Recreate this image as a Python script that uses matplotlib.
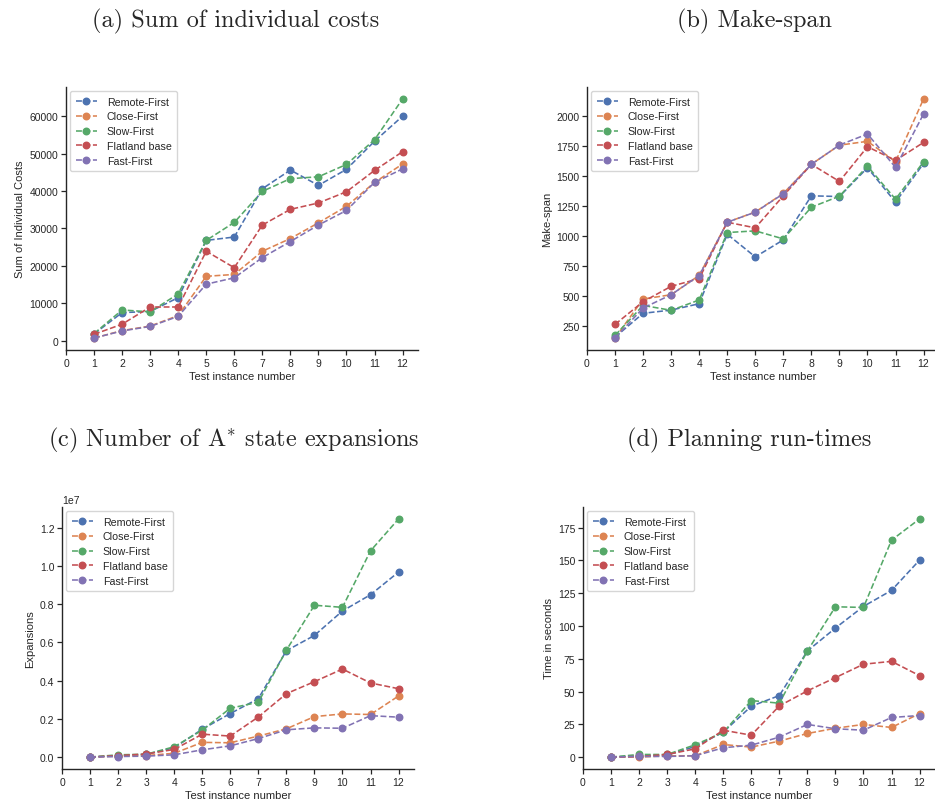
import matplotlib

matplotlib.use("Agg")

import matplotlib.pyplot as plt
import seaborn as sns

instances = list(range(1, 13))
methods = ["Remote-First", "Close-First", "Slow-First", "Flatland base", "Fast-First"]

# sum of individual costs
soc_remote = [1800, 7500, 7800, 11500, 26800, 27700, 40600, 45600, 41500, 45800, 53300, 60000]
soc_close = [700, 2700, 3900, 6700, 17200, 17700, 23900, 27300, 31500, 35900, 42300, 47200]
soc_slow = [1900, 8200, 7700, 12500, 26800, 31600, 39900, 43300, 43800, 47100, 53700, 64600]
soc_flat = [1700, 4400, 9000, 9000, 23900, 19500, 30900, 35100, 36800, 39800, 45500, 50500]
soc_fast = [700, 2600, 3800, 6500, 15100, 16800, 22200, 26500, 30900, 34800, 42300, 45900]

# make-span
ms_remote = [158, 356, 383, 436, 1015, 826, 968, 1335, 1329, 1569, 1282, 1605]
ms_close = [150, 475, 511, 672, 1115, 1200, 1355, 1598, 1757, 1789, 1620, 2142]
ms_slow = [172, 422, 381, 467, 1029, 1043, 976, 1240, 1332, 1582, 1307, 1619]
ms_flat = [264, 453, 581, 645, 1115, 1068, 1335, 1597, 1455, 1744, 1630, 1780]
ms_fast = [150, 400, 511, 670, 1115, 1199, 1352, 1597, 1758, 1850, 1572, 2017]

# A* state expansions
exp_remote = [0.0, 8.0e4, 1.4e5, 4.9e5, 1.46e6, 2.28e6, 3.06e6, 5.57e6, 6.37e6, 7.65e6, 8.50e6, 9.69e6]
exp_close = [0.0, 5.0e4, 8.0e4, 2.0e5, 7.7e5, 7.5e5, 1.10e6, 1.48e6, 2.12e6, 2.26e6, 2.23e6, 3.20e6]
exp_slow = [0.0, 1.2e5, 1.5e5, 5.4e5, 1.41e6, 2.56e6, 2.87e6, 5.60e6, 7.95e6, 7.84e6, 1.080e7, 1.247e7]
exp_flat = [0.0, 8.0e4, 1.6e5, 4.0e5, 1.20e6, 1.10e6, 2.10e6, 3.32e6, 3.95e6, 4.61e6, 3.88e6, 3.58e6]
exp_fast = [0.0, 3.0e4, 5.0e4, 1.2e5, 3.8e5, 5.9e5, 9.7e5, 1.43e6, 1.53e6, 1.51e6, 2.17e6, 2.09e6]

# planning run-times (s)
rt_remote = [0.0, 1.0, 1.5, 8.1, 19.0, 38.8, 46.9, 80.9, 98.4, 114.9, 127.1, 150.2]
rt_close = [0.0, 0.0, 1.0, 1.0, 9.6, 7.6, 12.2, 18.0, 22.0, 24.9, 22.6, 33.2]
rt_slow = [0.0, 2.0, 2.0, 9.4, 18.8, 43.1, 41.1, 80.9, 114.6, 114.1, 165.4, 181.6]
rt_flat = [0.0, 0.5, 2.0, 6.3, 20.5, 16.7, 39.0, 50.5, 60.6, 70.8, 73.0, 62.1]
rt_fast = [0.0, 0.5, 0.5, 1.0, 7.1, 9.1, 15.2, 24.9, 21.6, 20.5, 30.2, 31.7]

panels = [
    ("(a) Sum of individual costs", "Sum of Individual Costs",
     [soc_remote, soc_close, soc_slow, soc_flat, soc_fast]),
    ("(b) Make-span", "Make-span", [ms_remote, ms_close, ms_slow, ms_flat, ms_fast]),
    ("(c) Number of A$^{*}$ state expansions", "Expansions",
     [exp_remote, exp_close, exp_slow, exp_flat, exp_fast]),
    ("(d) Planning run-times", "Time in seconds", [rt_remote, rt_close, rt_slow, rt_flat, rt_fast]),
]

sns.set_style("ticks")
plt.rcParams["font.family"] = ["Liberation Sans", "DejaVu Sans"]
plt.rcParams["mathtext.fontset"] = "cm"
colors = sns.color_palette("deep")

W, H = 935, 803
fig = plt.figure(figsize=(W / 100, H / 100), dpi=100)

# axes boxes in pixels: left, bottom-from-top, width, height
boxes = [(66, 351, 352, 263), (587, 351, 352, 263), (62, 770, 352, 262), (583, 770, 352, 262)]
title_pos = [(92, 21), (677, 21), (48, 440), (627, 440)]

for (title, ylabel, series), (x0, yb, w, h), (tx, ty) in zip(panels, boxes, title_pos):
    ax = fig.add_axes([x0 / W, (H - yb) / H, w / W, h / H])
    for name, vals, c in zip(methods, series, colors):
        ax.plot(instances, vals, "o--", color=c, lw=1.15, ms=4.7, label=name)
    ax.set_xlim(left=0)
    ax.set_xticks(range(0, 13))
    ax.set_xlabel("Test instance number", fontsize=8, labelpad=2.5)
    ax.set_ylabel(ylabel, fontsize=8, labelpad=3)
    ax.tick_params(labelsize=7.5, length=3.5, width=0.9, pad=2)
    ax.yaxis.get_offset_text().set_fontsize(7.5)
    for sp in ax.spines.values():
        sp.set_linewidth(1.0)
    sns.despine(ax=ax)
    ax.legend(loc="upper left", fontsize=7.7, handlelength=2.0, borderpad=0.5,
              labelspacing=0.45, handletextpad=0.9, borderaxespad=0.4)
    fig.text(tx / W, 1 - ty / H, title, family="cmr10", fontsize=17.5, ha="left", va="center")

fig.savefig("out.png", dpi=100)
